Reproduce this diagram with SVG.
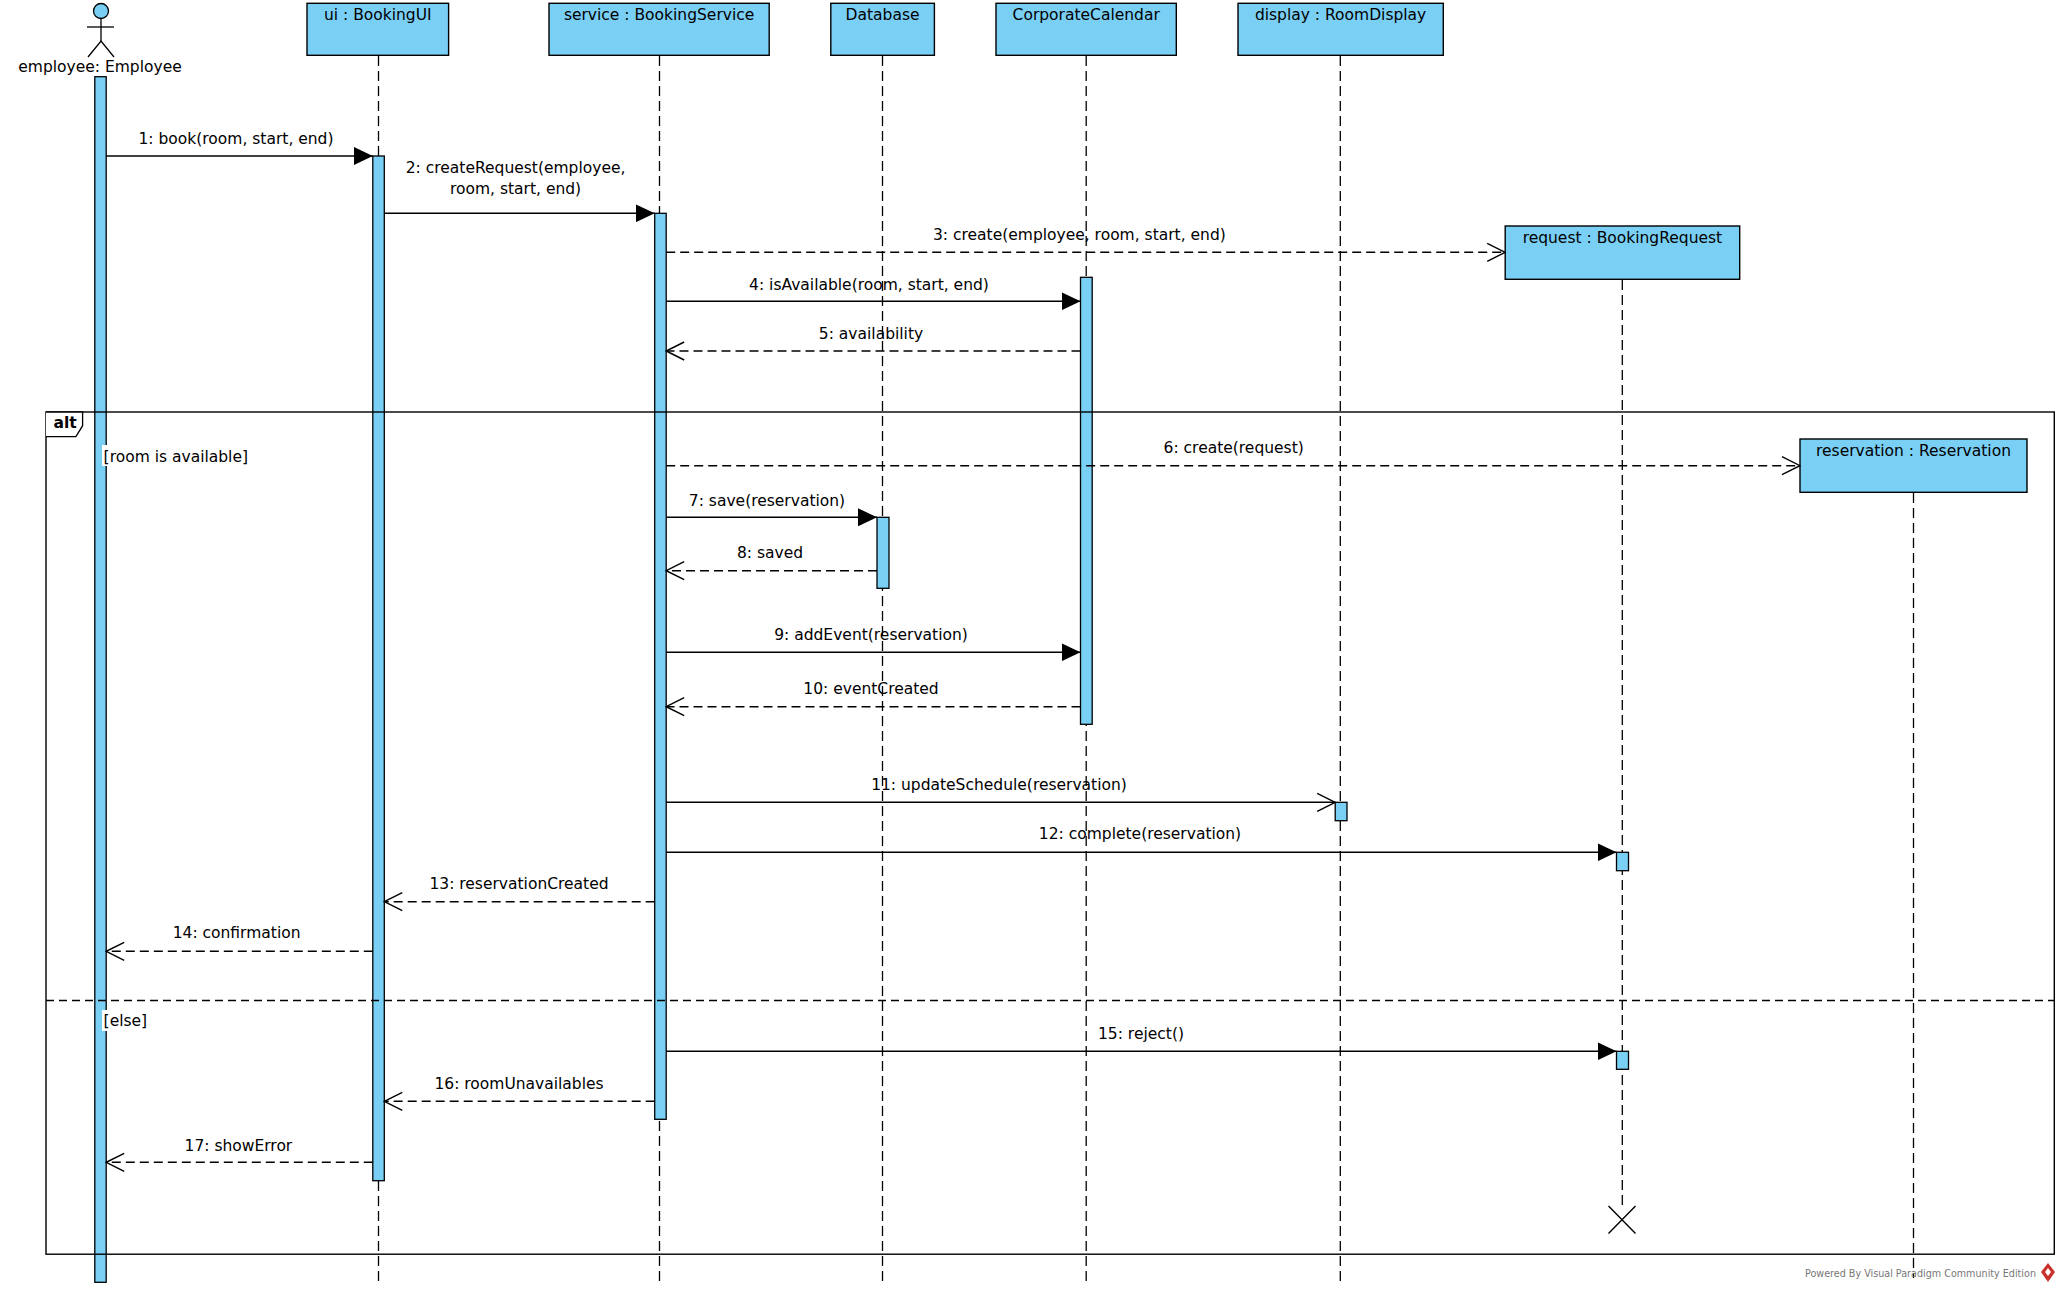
<svg xmlns="http://www.w3.org/2000/svg" width="2060" height="1290" viewBox="0 0 2060 1290">
<style>
text{font-family:"DejaVu Sans","Liberation Sans",sans-serif;font-size:15.5px;fill:#000}
.c{text-anchor:middle}
.box{fill:#7ACFF5;stroke:#000;stroke-width:1.4}
.bar{fill:#7ACFF5;stroke:#000;stroke-width:1.3}
.life{stroke:#000;stroke-width:1.3;stroke-dasharray:10 5;fill:none}
.frame{fill:none;stroke:#000;stroke-width:1.4}
.sep{stroke:#000;stroke-width:1.3;stroke-dasharray:8 5}
.sync{stroke:#000;stroke-width:1.4;fill:none;marker-end:url(#filled)}
.async{stroke:#000;stroke-width:1.4;fill:none;marker-end:url(#open)}
.ret{stroke:#000;stroke-width:1.4;fill:none;stroke-dasharray:9 5;marker-end:url(#open)}
.guard{fill:#fff}
</style>
<defs>
<marker id="filled" viewBox="0 0 20 18" refX="19" refY="9" markerWidth="20" markerHeight="18" markerUnits="userSpaceOnUse" orient="auto">
<path d="M0,0 L19,9 L0,18 Z" fill="#000"/>
</marker>
<marker id="open" viewBox="0 0 20 20" refX="19" refY="10" markerWidth="20" markerHeight="20" markerUnits="userSpaceOnUse" orient="auto">
<path d="M1,1 L19,10 L1,19" fill="none" stroke="#000" stroke-width="1.4" stroke-dasharray="none"/>
</marker>
</defs>
<rect width="2060" height="1290" fill="#fff"/>

<g id="lifelines">
<line class="life" x1="378.5" y1="56" x2="378.5" y2="1285"/>
<line class="life" x1="659.5" y1="56" x2="659.5" y2="1285"/>
<line class="life" x1="882.5" y1="56" x2="882.5" y2="1285"/>
<line class="life" x1="1086.2" y1="56" x2="1086.2" y2="1285"/>
<line class="life" x1="1340.3" y1="56" x2="1340.3" y2="1285"/>
<line class="life" x1="1622.3" y1="280" x2="1622.3" y2="1206"/>
<line class="life" x1="1913.5" y1="493" x2="1913.5" y2="1278"/>
</g>

<g id="employee">
<circle cx="101" cy="11" r="7.5" fill="#7ACFF5" stroke="#000" stroke-width="1.3"/>
<line x1="101" y1="18.5" x2="101" y2="41" stroke="#000" stroke-width="1.3"/>
<line x1="87" y1="27" x2="114" y2="27" stroke="#000" stroke-width="1.3"/>
<path d="M88,57 L101,41 L114,57" fill="none" stroke="#000" stroke-width="1.3"/>
<text class="c" x="100" y="71.5">employee: Employee</text>
<rect class="bar" x="94.8" y="76.7" width="11.4" height="1205.6"/>
</g>

<g id="ui">
<rect class="box" x="307" y="3.3" width="141.6" height="52"/>
<text class="c" x="377.8" y="20">ui : BookingUI</text>
<rect class="bar" x="372.8" y="156" width="11.5" height="1024.7"/>
</g>

<g id="service">
<rect class="box" x="549" y="3.3" width="220.2" height="52"/>
<text class="c" x="659.1" y="20">service : BookingService</text>
<rect class="bar" x="654.7" y="213.3" width="11.5" height="906"/>
</g>

<g id="database">
<rect class="box" x="830.8" y="3.3" width="103.6" height="52"/>
<text class="c" x="882.6" y="20">Database</text>
<rect class="bar" x="877" y="517.3" width="12" height="71"/>
</g>

<g id="calendar">
<rect class="box" x="996" y="3.3" width="180.3" height="52"/>
<text class="c" x="1086.2" y="20">CorporateCalendar</text>
<rect class="bar" x="1080.5" y="277.3" width="11.7" height="447"/>
</g>

<g id="display">
<rect class="box" x="1238" y="3.3" width="205.3" height="52"/>
<text class="c" x="1340.6" y="20">display : RoomDisplay</text>
<rect class="bar" x="1335.2" y="802.3" width="11.8" height="18.4"/>
</g>

<g id="request">
<rect class="box" x="1505.2" y="226" width="234.5" height="53.3"/>
<text class="c" x="1622.4" y="242.7">request : BookingRequest</text>
<rect class="bar" x="1616.5" y="852.3" width="12" height="18.4"/>
<rect class="bar" x="1616.5" y="1051.3" width="12" height="18"/>
<path d="M1608.5,1206 L1635.5,1233.5 M1635.5,1206 L1608.5,1233.5" stroke="#000" stroke-width="1.4"/>
</g>

<g id="reservation">
<rect class="box" x="1800" y="439" width="227" height="53.3"/>
<text class="c" x="1913.5" y="455.7">reservation : Reservation</text>
</g>

<g id="alt-frame">
<rect class="frame" x="46" y="412" width="2008.3" height="842.2"/>
<path d="M46,412 L82.6,412 L82.6,425.7 L75.9,436.7 L46,436.7" fill="#fff" stroke="#000" stroke-width="1.3"/>
<text x="53.6" y="428.3" style="font-weight:bold">alt</text>
<line class="sep" x1="46" y1="1000.5" x2="2054" y2="1000.5"/>
<rect class="guard" x="102" y="445" width="147" height="21"/>
<text x="103.6" y="461.7">[room is available]</text>
<rect class="guard" x="102" y="1010" width="43" height="21"/>
<text x="103.6" y="1025.7">[else]</text>
</g>

<g id="connectors">
<line class="sync" x1="106.2" y1="156" x2="372.8" y2="156"/>
<text class="c" x="236" y="144">1: book(room, start, end)</text>

<line class="sync" x1="384.3" y1="213.3" x2="654.7" y2="213.3"/>
<text class="c" x="515.6" y="173.3">2: createRequest(employee,</text>
<text class="c" x="515.6" y="194.3">room, start, end)</text>

<line class="ret" x1="666.2" y1="252.3" x2="1505.2" y2="252.3"/>
<text class="c" x="1079.4" y="240">3: create(employee, room, start, end)</text>

<line class="sync" x1="666.2" y1="301.3" x2="1080.5" y2="301.3"/>
<text class="c" x="869" y="290">4: isAvailable(room, start, end)</text>

<line class="ret" x1="1080.5" y1="351" x2="666.2" y2="351"/>
<text class="c" x="871" y="339">5: availability</text>

<line class="ret" x1="666.2" y1="465.7" x2="1800" y2="465.7"/>
<text class="c" x="1233.7" y="452.7">6: create(request)</text>

<line class="sync" x1="666.2" y1="517.3" x2="877" y2="517.3"/>
<text class="c" x="767" y="505.7">7: save(reservation)</text>

<line class="ret" x1="877" y1="570.7" x2="666.2" y2="570.7"/>
<text class="c" x="770" y="557.7">8: saved</text>

<line class="sync" x1="666.2" y1="652.3" x2="1080.5" y2="652.3"/>
<text class="c" x="871" y="640">9: addEvent(reservation)</text>

<line class="ret" x1="1080.5" y1="706.7" x2="666.2" y2="706.7"/>
<text class="c" x="871" y="694.3">10: eventCreated</text>

<line class="async" x1="666.2" y1="802.3" x2="1335.2" y2="802.3"/>
<text class="c" x="999" y="790">11: updateSchedule(reservation)</text>

<line class="sync" x1="666.2" y1="852.3" x2="1616.5" y2="852.3"/>
<text class="c" x="1140" y="839.3">12: complete(reservation)</text>

<line class="ret" x1="654.7" y1="901.7" x2="384.3" y2="901.7"/>
<text class="c" x="519" y="889.3">13: reservationCreated</text>

<line class="ret" x1="372.8" y1="951.3" x2="106.2" y2="951.3"/>
<text class="c" x="236.6" y="938.3">14: confirmation</text>

<line class="sync" x1="666.2" y1="1051.3" x2="1616.5" y2="1051.3"/>
<text class="c" x="1141" y="1039.3">15: reject()</text>

<line class="ret" x1="654.7" y1="1101.3" x2="384.3" y2="1101.3"/>
<text class="c" x="519" y="1088.7">16: roomUnavailables</text>

<line class="ret" x1="372.8" y1="1162.3" x2="106.2" y2="1162.3"/>
<text class="c" x="238.4" y="1151">17: showError</text>
</g>

<g id="watermark">
<text x="1805" y="1276.7" textLength="231" lengthAdjust="spacingAndGlyphs" style="font-size:10.5px;fill:#777">Powered By Visual Paradigm Community Edition</text>
<path d="M2048,1263 L2055,1272 L2048,1282 L2041,1272 Z" fill="#c9302c"/>
<path d="M2048,1268 L2051,1272 L2048,1276 L2045,1272 Z" fill="#fff"/>
</g>
</svg>
